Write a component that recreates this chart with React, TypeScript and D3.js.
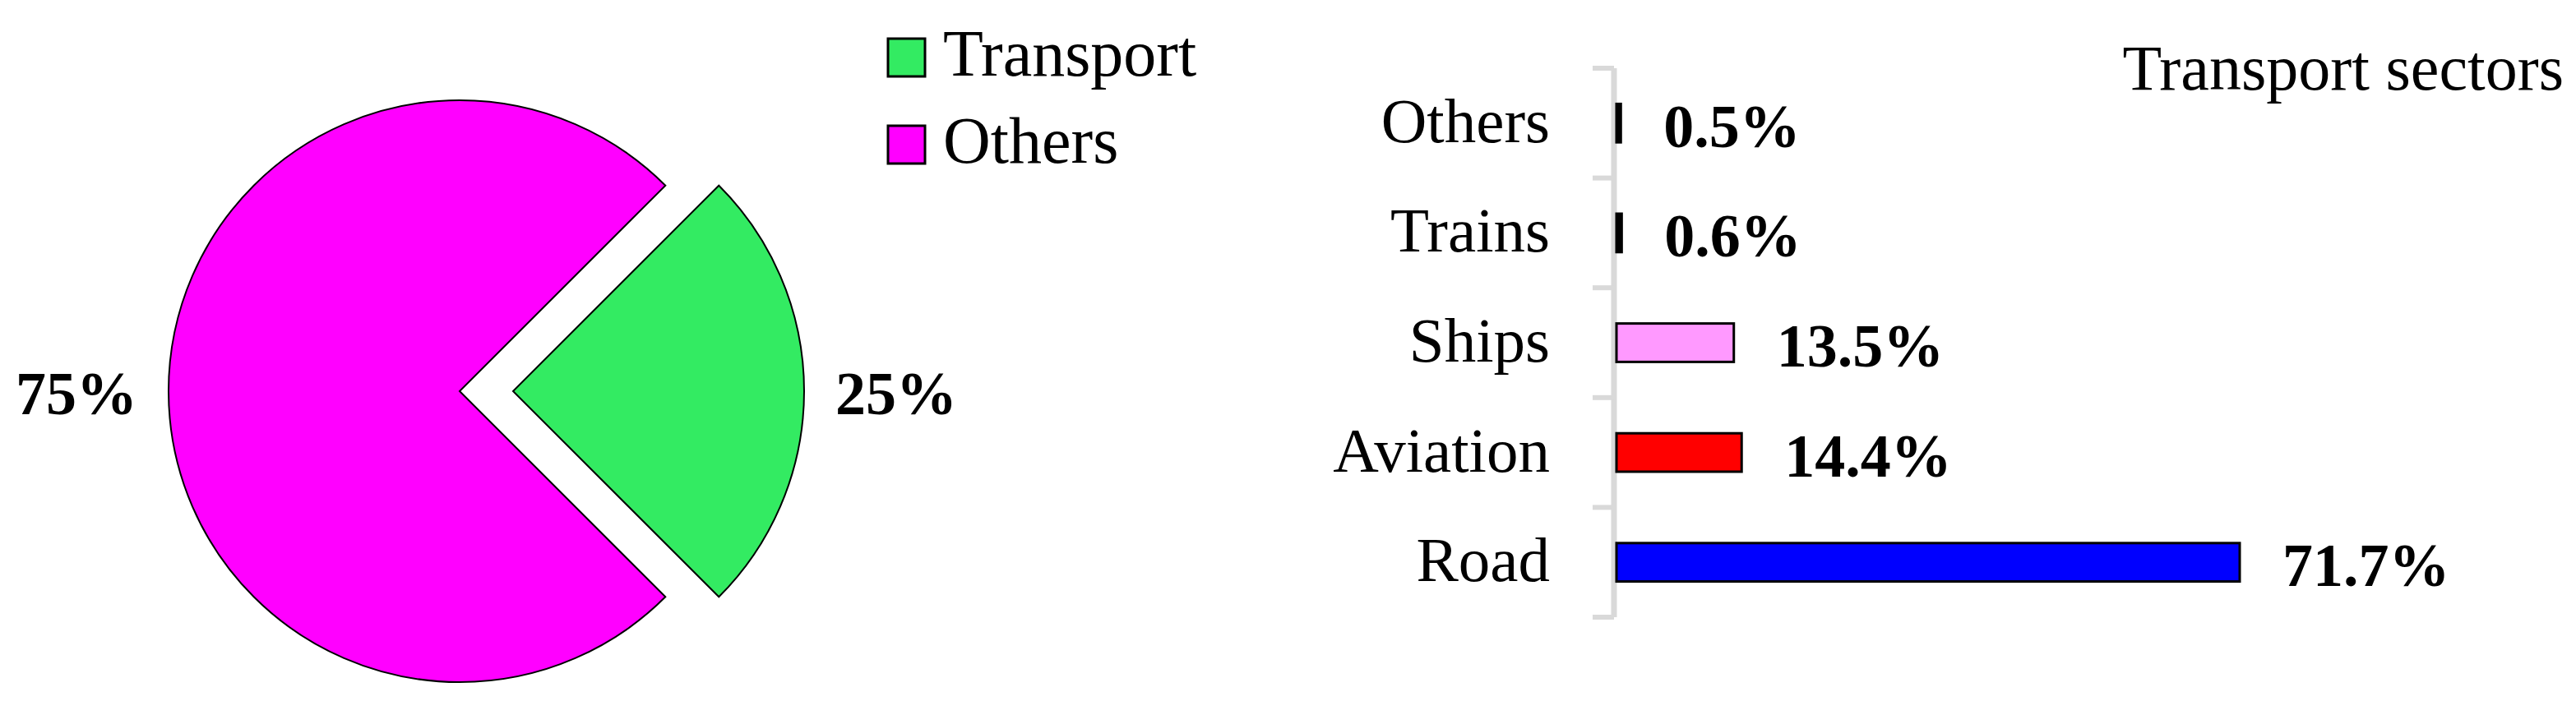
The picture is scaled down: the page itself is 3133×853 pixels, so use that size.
import React from 'react';
import * as d3 from 'd3';

const pieLabels = ['Transport', 'Others'];
const pieValues = [25, 75];
const pieColors = ['#33eb62', '#ff00ff'];

const sectors = ['Others', 'Trains', 'Ships', 'Aviation', 'Road'];
const sectorValues = [0.5, 0.6, 13.5, 14.4, 71.7];
const sectorColors = ['#000000', '#000000', '#ff99ff', '#ff0000', '#0000ff'];

const W = 3133;
const H = 853;
const FONT = '"Liberation Serif", "DejaVu Serif", serif';

function App() {
  // pie
  const cx = 559;
  const cy = 476;
  const r = 354;
  const explode = 65;
  const pie = d3.pie<number>().sort(null).startAngle(Math.PI / 4).endAngle(Math.PI / 4 + 2 * Math.PI);
  const arcs = pie(pieValues);
  const arc = d3.arc<d3.PieArcDatum<number>>().innerRadius(0).outerRadius(r);

  // bars
  const x = d3.scaleLinear().domain([0, 71.7]).range([1966, 2724]);
  const y = d3.scaleBand().domain(sectors).range([83, 751]).paddingInner(0.65).paddingOuter(0.325);
  const step = y.step();
  const bounds = sectors.map(s => (y(s) as number) - step * 0.325).concat([751]);

  return (
    <svg width={W} height={H} style={{ position: 'absolute', left: 0, top: 0 }} fontFamily={FONT}>
      <rect width={W} height={H} fill="#fff" />
      {arcs.map((a, i) => {
        const mid = (a.startAngle + a.endAngle) / 2;
        const off = i === 0 ? explode : 0;
        const ox = cx + off * Math.sin(mid);
        const oy = cy - off * Math.cos(mid);
        const lr = 466;
        return (
          <g key={pieLabels[i]}>
            <path d={arc(a) || ''} transform={`translate(${ox},${oy})`} fill={pieColors[i]} stroke="#000" strokeWidth={2} />
            <text x={ox + lr * Math.sin(mid)} y={oy - lr * Math.cos(mid) + 28} textAnchor="middle" fontWeight="bold" fontSize={74}>
              {pieValues[i]}%
            </text>
          </g>
        );
      })}

      {pieLabels.map((l, i) => (
        <g key={l} transform={`translate(1080,${47 + i * 106})`}>
          <rect width={45} height={46} fill={pieColors[i]} stroke="#000" strokeWidth={3} />
          <text x={67} y={45} fontSize={80}>{l}</text>
        </g>
      ))}

      <text x={3118} y={109} textAnchor="end" fontSize={78}>Transport sectors</text>

      <line x1={1963} x2={1963} y1={83} y2={751} stroke="#d9d9d9" strokeWidth={7} />
      {bounds.map((b, i) => (
        <line key={i} x1={1937} x2={1963} y1={b} y2={b} stroke="#d9d9d9" strokeWidth={6} />
      ))}

      {sectors.map((s, i) => {
        const yc = (y(s) as number) + y.bandwidth() / 2;
        const v = sectorValues[i];
        return (
          <g key={s}>
            <text x={1885} y={yc + 23} textAnchor="end" fontSize={77}>{s}</text>
            <rect x={x(0)} y={y(s)} width={x(v) - x(0)} height={y.bandwidth()} fill={sectorColors[i]} stroke="#000" strokeWidth={3} />
            <text x={x(v) + 52} y={yc + 29} fontWeight="bold" fontSize={74}>{v.toFixed(1)}%</text>
          </g>
        );
      })}
    </svg>
  );
}

export default App;
